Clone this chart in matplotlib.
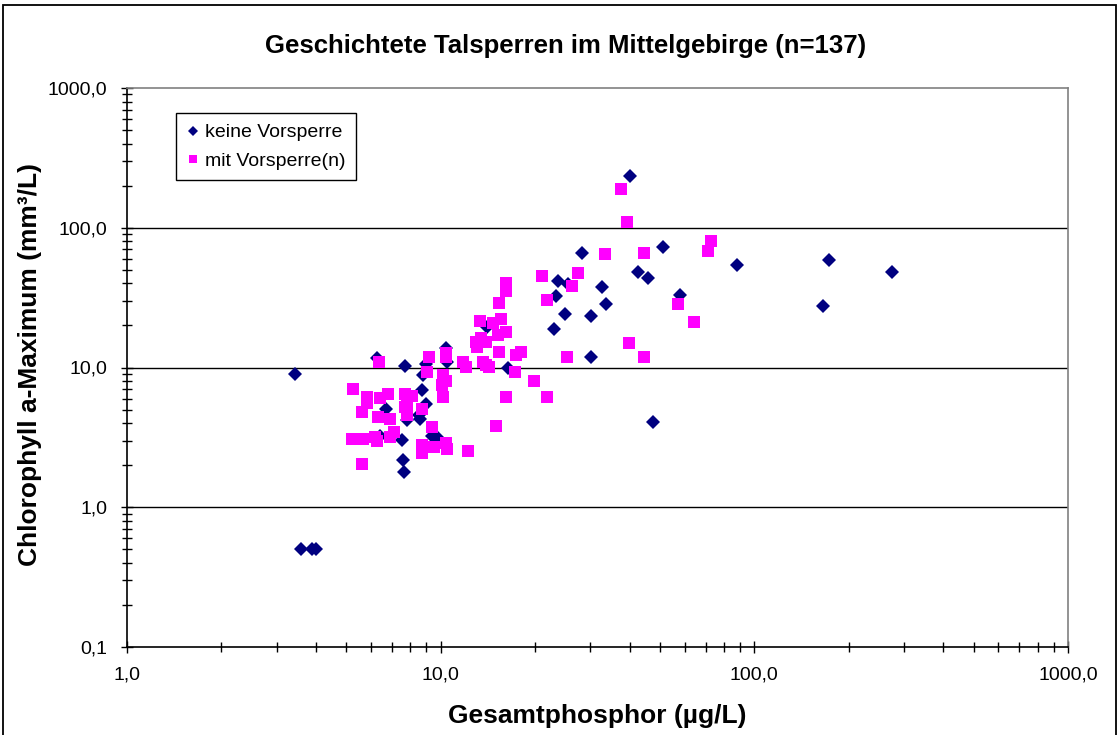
import matplotlib
matplotlib.use("Agg")
from matplotlib import pyplot as plt
from matplotlib.patches import Rectangle
from matplotlib.ticker import FixedLocator, FuncFormatter, LogLocator, NullFormatter

plt.rcParams['font.family'] = ['Liberation Sans', 'DejaVu Sans']

# keine Vorsperre (navy diamonds)
tp_keine = [3.43, 3.58, 3.9, 4.0, 6.28, 6.41, 6.69, 7.51, 7.57, 7.64, 7.68, 7.82,
            8.5, 8.6, 8.76, 8.7, 8.98, 9.0, 9.37, 9.78, 10.4, 10.5, 14.0, 16.4,
            23.0, 23.3, 23.6, 25.0, 25.5, 28.3, 30.1, 30.1, 32.8, 33.6, 40.1, 42.7,
            45.9, 47.6, 51.3, 57.9, 88.2, 165.0, 173.3, 274.0]
chl_keine = [8.94, 0.5, 0.5, 0.5, 11.6, 3.24, 5.02, 3.03, 2.18, 1.78, 10.25, 4.21,
             4.57, 4.3, 8.83, 6.9, 5.45, 10.6, 3.24, 3.15, 13.7, 11.0, 19.4, 10.0,
             18.9, 32.6, 41.8, 24.0, 39.6, 65.6, 23.4, 11.8, 37.9, 28.5, 235.0, 48.5,
             43.5, 4.09, 73.2, 33.0, 54.1, 27.7, 58.8, 48.5]

# mit Vorsperre(n) (magenta squares)
tp_mit = [37.5, 39.3, 33.5, 44.5, 72.8, 71.0, 56.9, 64.3, 39.8, 44.5, 21.0, 27.5,
          26.2, 21.8, 25.2, 16.2, 16.2, 15.4, 13.3, 14.7, 15.6, 15.2, 16.2, 13.0,
          13.4, 13.9, 13.1, 15.4, 17.4, 18.1, 11.8, 12.0, 13.6, 13.9, 14.3, 17.2,
          19.9, 16.2, 21.8, 10.2, 10.4, 10.4, 9.2, 9.06, 10.2, 10.4, 10.1, 7.7,
          8.08, 7.8, 8.7, 7.8, 7.7, 6.35, 5.27, 5.81, 5.83, 5.6, 6.41, 6.81,
          6.32, 6.89, 5.2, 5.67, 6.17, 6.25, 6.89, 7.1, 5.6, 8.7, 8.7, 9.4,
          9.52, 10.4, 10.5, 12.2, 15.0]
chl_mit = [190.0, 110.0, 64.6, 66.3, 80.8, 68.5, 28.3, 21.3, 14.9, 11.9, 45.2, 47.7,
           38.3, 30.4, 11.9, 40.5, 35.3, 29.1, 21.5, 20.7, 22.1, 17.1, 18.0, 15.3,
           16.2, 15.3, 14.1, 13.0, 12.3, 13.0, 11.0, 10.1, 11.0, 10.4, 10.1, 9.24,
           8.06, 6.12, 6.12, 6.12, 12.8, 11.9, 11.9, 9.33, 8.83, 8.06, 7.5, 6.5,
           6.3, 5.55, 5.05, 4.57, 5.25, 10.9, 7.0, 6.12, 5.55, 4.78, 6.02, 6.46,
           4.41, 4.3, 3.06, 3.06, 3.2, 2.96, 3.2, 3.47, 2.03, 2.79, 2.46, 3.73,
           2.69, 2.89, 2.61, 2.54, 3.83]

x_ticks = [1, 10, 100, 1000]
y_ticks = [0.1, 1, 10, 100, 1000]

title = "Geschichtete Talsperren im Mittelgebirge (n=137)"
xlabel = "Gesamtphosphor (µg/L)"
ylabel = "Chlorophyll a-Maximum (mm³/L)"


def comma_fmt(v, pos=None):
    return f"{v:.1f}".replace(".", ",")


fig = plt.figure(figsize=(11.19, 7.35), dpi=100)
ax = fig.add_axes([127 / 1119, 1 - 647 / 735, 941 / 1119, 559 / 735])

ax.plot(tp_keine, chl_keine, linestyle="none", marker="D", markersize=7.2,
        color="#000080", markeredgewidth=0, label="keine Vorsperre", zorder=3)
ax.plot(tp_mit, chl_mit, linestyle="none", marker="s", markersize=8.0,
        color="#FF00FF", markeredgewidth=0, label="mit Vorsperre(n)", zorder=4)

ax.set_xscale("log")
ax.set_yscale("log")
ax.set_xlim(1, 1000)
ax.set_ylim(0.1, 1000)

ax.xaxis.set_major_locator(FixedLocator(x_ticks))
ax.yaxis.set_major_locator(FixedLocator(y_ticks))
ax.xaxis.set_minor_locator(LogLocator(base=10, subs=range(2, 10)))
ax.yaxis.set_minor_locator(LogLocator(base=10, subs=range(2, 10)))
ax.xaxis.set_major_formatter(FuncFormatter(comma_fmt))
ax.yaxis.set_major_formatter(FuncFormatter(comma_fmt))
ax.xaxis.set_minor_formatter(NullFormatter())
ax.yaxis.set_minor_formatter(NullFormatter())

ax.tick_params(which="both", direction="inout", width=1, color="black",
               labelsize=14, top=False, right=False)
ax.tick_params(which="major", length=8, pad=10)
ax.tick_params(which="minor", length=7)

for v in [1, 10, 100]:
    ax.axhline(v, color="black", linewidth=1, zorder=1)

ax.spines["left"].set_color("black")
ax.spines["bottom"].set_color("black")
ax.spines["top"].set_color("#808080")
ax.spines["right"].set_color("#808080")
for s in ax.spines.values():
    s.set_linewidth(1.2)

leg = ax.legend(loc="upper left", bbox_to_anchor=(49 / 941, 1 - 25 / 559),
                borderaxespad=0, fontsize=14, frameon=True, fancybox=False,
                edgecolor="black", framealpha=1, handlelength=0.6,
                handletextpad=0.35, markerscale=0.7, labelspacing=0.55,
                borderpad=0.55)
leg.get_frame().set_linewidth(1)

fig.text(566 / 1119, 1 - 46 / 735, title, ha="center", va="center",
         fontsize=18.5, fontweight="bold")
fig.text(597 / 1119, 1 - 716 / 735, xlabel, ha="center", va="center",
         fontsize=19, fontweight="bold")
fig.text(30 / 1119, 1 - 365 / 735, ylabel, ha="center", va="center",
         rotation=90, fontsize=19, fontweight="bold")

fig.patches.append(Rectangle((3 / 1119, -0.02), 1113 / 1119, 1.02 - 5 / 735,
                             transform=fig.transFigure, fill=False,
                             edgecolor="black", linewidth=1.3))

fig.savefig("out.png", dpi=100)
